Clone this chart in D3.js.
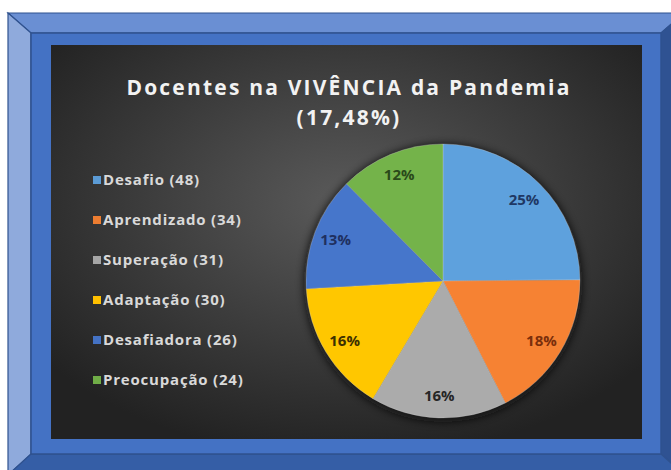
<!DOCTYPE html>
<html lang="pt">
<head>
  <meta charset="utf-8">
  <title>Docentes na VIVÊNCIA da Pandemia</title>
  <script src="https://d3js.org/d3.v7.min.js"></script>
  <style>
    html,body{margin:0;background:#fff}
    svg{display:block}
    .title{font-family:"Open Sans",sans-serif;font-weight:700;fill:#f2f2f2;letter-spacing:2.2px}
    .leg{font-family:"Open Sans",sans-serif;font-weight:700;font-size:15px;fill:#d9d9d9;letter-spacing:0.8px}
    .pct{font-family:"Open Sans",sans-serif;font-weight:700;font-size:15px}
  </style>
</head>
<body>
<svg id="chart" width="671" height="470"></svg>
<script>
  // --- data ---
  const categories=['Desafio','Aprendizado','Superação','Adaptação','Desafiadora','Preocupação'];
  const counts=[48,34,31,30,26,24];
  const titleLines=['Docentes na VIVÊNCIA da Pandemia','(17,48%)'];

  // --- styles ---
  const fills=['#5b9bd5','#ed7d31','#a5a5a5','#ffc000','#4472c4','#70ad47'];
  const labelCols=['#1f3864','#7a2e0b','#262626','#3d3000','#1f3060','#2a4a1a'];

  const svg=d3.select('#chart');
  const defs=svg.append('defs');

  // frame (bevel)
  const o={x0:8,y0:13,x1:684,y1:475}, i={x0:31,y0:33,x1:661,y1:454};
  const bev=[
    {pts:[[o.x0,o.y0],[o.x1,o.y0],[i.x1,i.y0],[i.x0,i.y0]],c:'#6a8fd3'},
    {pts:[[o.x0,o.y0],[i.x0,i.y0],[i.x0,i.y1],[o.x0,o.y1]],c:'#8faadc'},
    {pts:[[o.x1,o.y0],[o.x1,o.y1],[i.x1,i.y1],[i.x1,i.y0]],c:'#2f5292'},
    {pts:[[o.x0,o.y1],[i.x0,i.y1],[i.x1,i.y1],[o.x1,o.y1]],c:'#355ea6'}
  ];
  svg.append('g').selectAll('polygon').data(bev).join('polygon')
    .attr('points',d=>d.pts.map(p=>p.join(',')).join(' '))
    .attr('fill',d=>d.c).attr('stroke','#2f528f').attr('stroke-width',1.2);
  svg.append('rect').attr('x',i.x0).attr('y',i.y0).attr('width',i.x1-i.x0).attr('height',i.y1-i.y0)
    .attr('fill','#4472c4').attr('stroke','#2f528f').attr('stroke-width',1.5);

  // dark panel
  const P={x:51,y:45,w:591,h:394};
  const bg=defs.append('radialGradient').attr('id','bg').attr('cx','50%').attr('cy','40%').attr('r','65%');
  bg.append('stop').attr('offset','0%').attr('stop-color','#5a5a5a');
  bg.append('stop').attr('offset','100%').attr('stop-color','#222');
  svg.append('rect').attr('x',P.x).attr('y',P.y).attr('width',P.w).attr('height',P.h).attr('fill','url(#bg)');

  // title
  svg.append('text').attr('class','title').attr('text-anchor','middle')
    .selectAll('tspan').data(titleLines).join('tspan')
    .attr('x',349).attr('y',(d,k)=>95+k*30).attr('font-size',21).text(d=>d);

  // legend
  const ly=d3.scalePoint().domain(categories).range([180,380]);
  const leg=svg.append('g').selectAll('g').data(categories).join('g')
    .attr('transform',d=>`translate(93,${ly(d)})`);
  leg.append('rect').attr('x',0).attr('y',-4).attr('width',8).attr('height',8)
    .attr('fill',(d,k)=>fills[k]);
  leg.append('text').attr('class','leg').attr('x',10).attr('dy','0.35em')
    .text((d,k)=>`${d} (${counts[k]})`);

  // pie
  const cx=443,cy=281,R=137;
  const total=d3.sum(counts);
  const pie=d3.pie().sort(null).value(d=>d)(counts);
  const arc=d3.arc().innerRadius(0).outerRadius(R);
  const lab=d3.arc().innerRadius(R*0.84).outerRadius(R*0.84);

  const sh=defs.append('filter').attr('id','sh').attr('x','-20%').attr('y','-20%').attr('width','140%').attr('height','140%');
  sh.append('feGaussianBlur').attr('stdDeviation',4);
  svg.append('circle').attr('cx',cx).attr('cy',cy+2).attr('r',R+2).attr('fill','#111').attr('opacity',0.8).attr('filter','url(#sh)');

  fills.forEach((c,k)=>{
    const g=defs.append('radialGradient').attr('id','g'+k).attr('gradientUnits','userSpaceOnUse')
      .attr('cx',cx).attr('cy',cy).attr('r',R);
    g.append('stop').attr('offset','0%').attr('stop-color',d3.color(c).darker(0.15));
    g.append('stop').attr('offset','100%').attr('stop-color',d3.color(c).brighter(0.1));
  });

  const pg=svg.append('g').attr('transform',`translate(${cx},${cy})`);
  pg.selectAll('path').data(pie).join('path')
    .attr('d',arc).attr('fill',(d,k)=>`url(#g${k})`)
    .attr('stroke','#c8c8c8').attr('stroke-opacity',0.4).attr('stroke-width',0.8);
  pg.selectAll('text').data(pie).join('text').attr('class','pct')
    .attr('transform',d=>`translate(${lab.centroid(d)})`)
    .attr('text-anchor','middle').attr('dy','0.35em')
    .attr('fill',(d,k)=>labelCols[k])
    .text(d=>Math.round(d.value/total*100)+'%');
</script>
</body>
</html>
